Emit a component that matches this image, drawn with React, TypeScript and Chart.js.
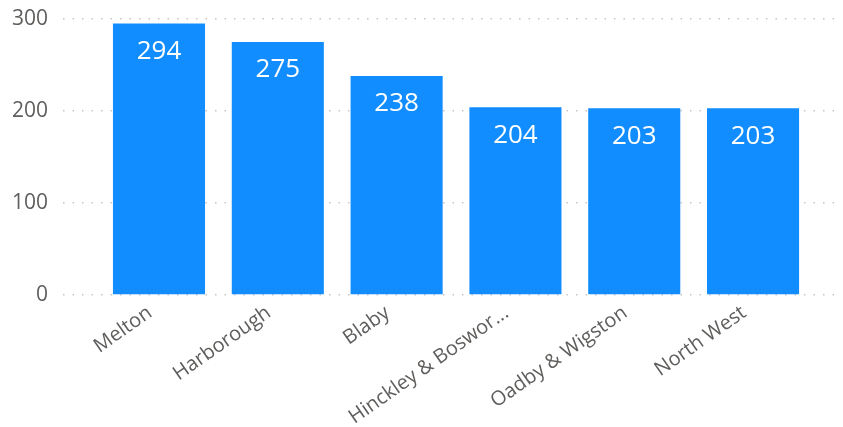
import React, { useEffect, useRef } from "react";
import { Chart, registerables } from "chart.js";

Chart.register(...registerables);

const categories = ["Melton", "Harborough", "Blaby", "Hinckley & Boswor...", "Oadby & Wigston", "North West"];
const values = [295, 275, 238, 204, 203, 203];
const labelValues = [294, 275, 238, 204, 203, 203];
const yTicks = [0, 100, 200, 300];

const FONT = "'Open Sans', 'Noto Sans', sans-serif";

const dataLabelPlugin = {
  id: "dataLabels",
  afterDatasetsDraw(chart: any) {
    const ctx = chart.ctx;
    const meta = chart.getDatasetMeta(0);
    ctx.save();
    ctx.fillStyle = "#ffffff";
    ctx.font = `26px ${FONT}`;
    ctx.textAlign = "center";
    ctx.textBaseline = "middle";
    meta.data.forEach((bar: any, i: number) => {
      ctx.fillText(String(labelValues[i]), bar.x, bar.y + 28);
    });
    ctx.restore();
  },
};

export default function App() {
  const ref = useRef<HTMLCanvasElement | null>(null);
  useEffect(() => {
    document.body.style.margin = "0";
    const chart = new Chart(ref.current as HTMLCanvasElement, {
      type: "bar",
      data: {
        datasets: [
          {
            data: values.map((v, i) => ({ x: i, y: v })),
            backgroundColor: "#118DFF",
            borderWidth: 0,
            categoryPercentage: 1,
            barPercentage: 0.775,
          },
        ],
      },
      options: {
        animation: false,
        responsive: false,
        maintainAspectRatio: false,
        layout: { padding: { top: 19, right: 5, left: 0, bottom: 0 } },
        plugins: { legend: { display: false }, tooltip: { enabled: false } },
        scales: {
          x: {
            type: "linear",
            offset: false,
            min: -0.808,
            max: 5.715,
            grid: { display: false, drawTicks: false },
            border: { display: false },
            afterBuildTicks(scale: any) {
              scale.ticks = categories.map((_, i) => ({ value: i }));
            },
            afterFit(scale: any) {
              scale.height = 132;
              scale.paddingLeft = 0;
              scale.paddingRight = 0;
            },
            ticks: {
              autoSkip: false,
              maxRotation: 35,
              minRotation: 35,
              padding: 6,
              labelOffset: -9,
              color: "#605E5C",
              font: { family: FONT, size: 20 },
              callback: (v: any) =>
                Number.isInteger(v) && v >= 0 && v < categories.length ? categories[v] : "",
            },
          },
          y: {
            min: 0,
            max: 300,
            afterFit(scale: any) {
              scale.width = 63;
              scale.paddingTop = 0;
              scale.paddingBottom = 0;
            },
            afterBuildTicks(scale: any) {
              scale.ticks = yTicks.map((v) => ({ value: v }));
            },
            border: { display: false, dash: [1.5, 8] },
            grid: {
              color: "#C8C6C4",
              lineWidth: 1.5,
              drawTicks: false,
            },
            ticks: {
              padding: 15,
              color: "#605E5C",
              font: { family: FONT, size: 21 },
            },
          },
        },
      },
      plugins: [dataLabelPlugin],
    } as any);
    return () => chart.destroy();
  }, []);
  return (
    <div style={{ width: 843, height: 427 }}>
      <canvas ref={ref} width={843} height={427} style={{ width: 843, height: 427 }} />
    </div>
  );
}
